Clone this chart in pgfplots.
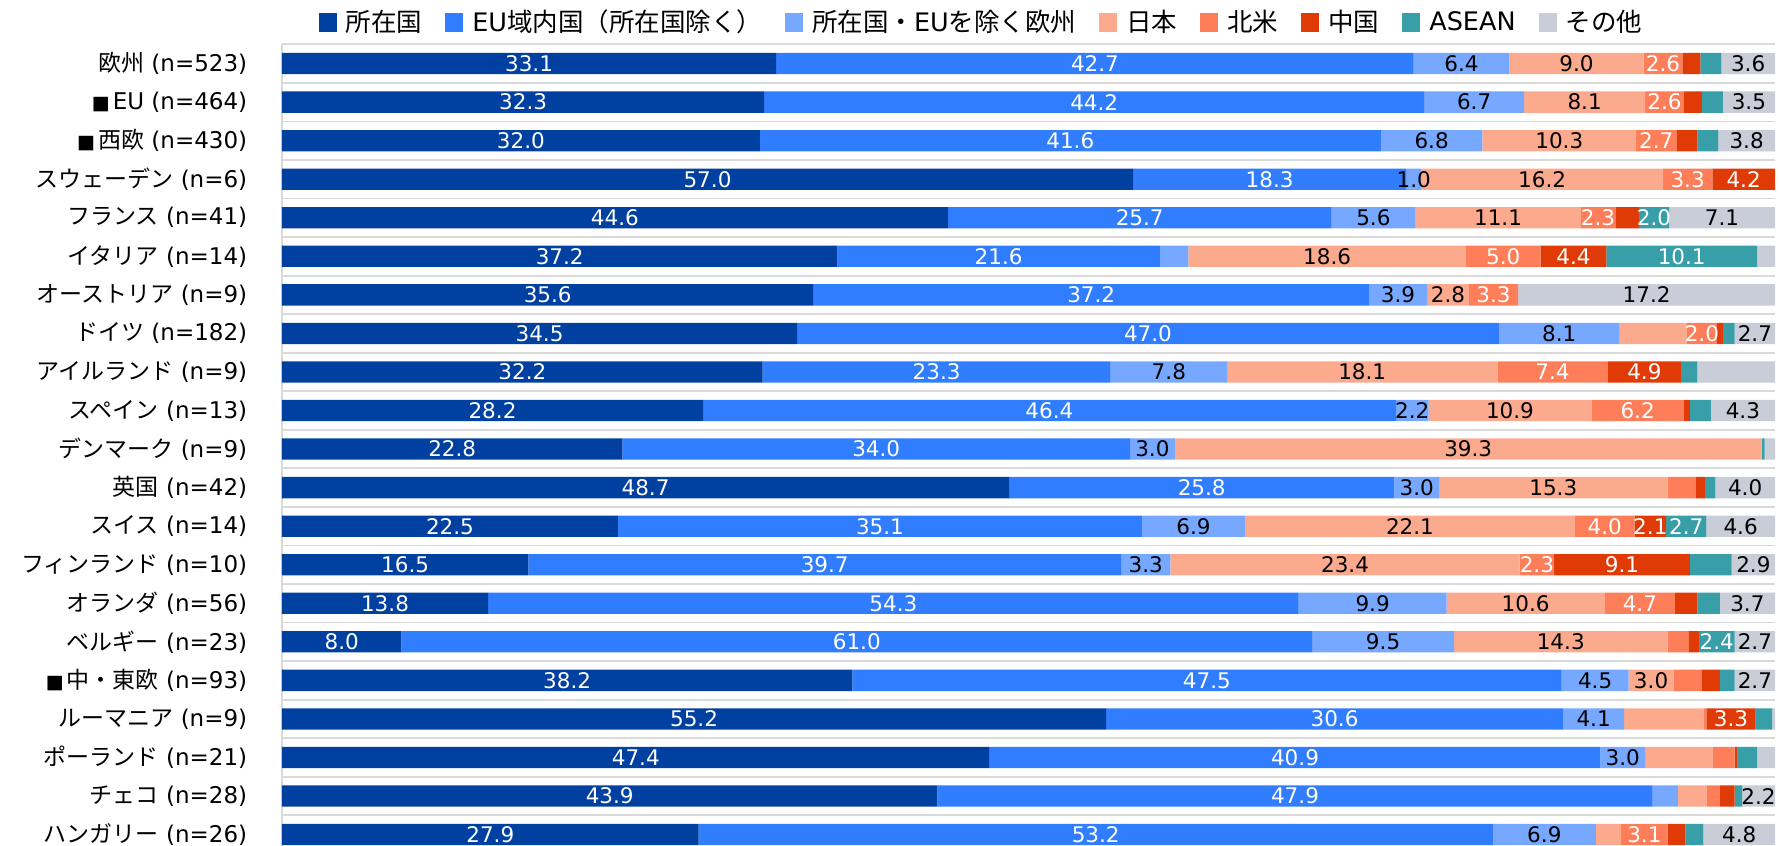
\documentclass[border=0pt]{standalone}
\usepackage{pgfplots}
\pgfplotsset{compat=1.18}
\usepackage{pgfplotstable}
\usepackage{fontspec}
\setmainfont{DejaVu Sans}
\newfontfamily\cjk{Noto Sans CJK JP}

\definecolor{cA}{RGB}{0,64,160}
\definecolor{cB}{RGB}{48,125,255}
\definecolor{cC}{RGB}{118,168,255}
\definecolor{cD}{RGB}{252,170,142}
\definecolor{cE}{RGB}{253,126,89}
\definecolor{cF}{RGB}{224,58,6}
\definecolor{cG}{RGB}{56,158,168}
\definecolor{cH}{RGB}{200,205,216}

\newcommand{\sq}{{\fontsize{9.5}{10}\selectfont ■}\hspace{1.5pt}}

\pgfplotsset{
  sqlegend/.style={legend image code/.code={\fill[##1] (0pt,-4.5pt) rectangle (9pt,4.5pt);}},
}

\pgfplotstableread{
y a b c d e f g h la lb lc ld le lf lg lh
0 33.1 42.7 6.4 9.0 2.6 1.2 1.4 3.6 33.1 42.7 6.4 9.0 2.6 {} {} 3.6
1 32.3 44.2 6.7 8.1 2.6 1.2 1.4 3.5 32.3 44.2 6.7 8.1 2.6 {} {} 3.5
2 32.0 41.6 6.8 10.3 2.7 1.4 1.4 3.8 32.0 41.6 6.8 10.3 2.7 {} {} 3.8
3 57.0 18.3 1.0 16.2 3.3 4.2 0 0 57.0 18.3 1.0 16.2 3.3 4.2 {} {}
4 44.6 25.7 5.6 11.1 2.3 1.6 2.0 7.1 44.6 25.7 5.6 11.1 2.3 {} 2.0 7.1
5 37.2 21.6 1.9 18.6 5.0 4.4 10.1 1.2 37.2 21.6 {} 18.6 5.0 4.4 10.1 {}
6 35.6 37.2 3.9 2.8 3.3 0 0 17.2 35.6 37.2 3.9 2.8 3.3 {} {} 17.2
7 34.5 47.0 8.1 4.5 2.0 0.4 0.8 2.7 34.5 47.0 8.1 {} 2.0 {} {} 2.7
8 32.2 23.3 7.8 18.1 7.4 4.9 1.1 5.2 32.2 23.3 7.8 18.1 7.4 4.9 {} {}
9 28.2 46.4 2.2 10.9 6.2 0.4 1.4 4.3 28.2 46.4 2.2 10.9 6.2 {} {} 4.3
10 22.8 34.0 3.0 39.3 0 0 0.2 0.7 22.8 34.0 3.0 39.3 {} {} {} {}
11 48.7 25.8 3.0 15.3 1.9 0.6 0.7 4.0 48.7 25.8 3.0 15.3 {} {} {} 4.0
12 22.5 35.1 6.9 22.1 4.0 2.1 2.7 4.6 22.5 35.1 6.9 22.1 4.0 2.1 2.7 4.6
13 16.5 39.7 3.3 23.4 2.3 9.1 2.8 2.9 16.5 39.7 3.3 23.4 2.3 9.1 {} 2.9
14 13.8 54.3 9.9 10.6 4.7 1.5 1.5 3.7 13.8 54.3 9.9 10.6 4.7 {} {} 3.7
15 8.0 61.0 9.5 14.3 1.4 0.7 2.4 2.7 8.0 61.0 9.5 14.3 {} {} 2.4 2.7
16 38.2 47.5 4.5 3.0 1.9 1.2 1.0 2.7 38.2 47.5 4.5 3.0 {} {} {} 2.7
17 55.2 30.6 4.1 5.3 0.2 3.3 1.1 0.2 55.2 30.6 4.1 {} {} 3.3 {} {}
18 47.4 40.9 3.0 4.5 1.5 0.2 1.3 1.2 47.4 40.9 3.0 {} {} {} {} {}
19 43.9 47.9 1.7 1.9 0.9 1.0 0.5 2.2 43.9 47.9 {} {} {} {} {} 2.2
20 27.9 53.2 6.9 1.7 3.1 1.2 1.2 4.8 27.9 53.2 6.9 {} 3.1 {} {} 4.8
}\datatable

\pgfplotsset{
  seg/.style n args={2}{
    fill=#1, draw=none, sqlegend,
    nodes near coords, point meta=explicit symbolic,
    every node near coord/.append style={text=#2, anchor=center, inner sep=0pt,
      font=\fontsize{10.75}{12}\selectfont},
  },
}

\begin{document}
\begin{tikzpicture}
\begin{axis}[
  name=ax,
  scale only axis, width=746.5pt, height=400.85pt,
  xbar stacked, bar width=10.65pt,
  xmin=0, xmax=100,
  ymin=-0.5, ymax=20.296, y dir=reverse,
  axis x line=none, axis y line*=left,
  y axis line style={draw=black!15, line width=1pt},
  ytick={0,...,20},
  yticklabels={
    {{\cjk 欧州} (n=523)},
    {\sq EU (n=464)},
    {\sq{\cjk 西欧} (n=430)},
    {{\cjk スウェーデン} (n=6)},
    {{\cjk フランス} (n=41)},
    {{\cjk イタリア} (n=14)},
    {{\cjk オーストリア} (n=9)},
    {{\cjk ドイツ} (n=182)},
    {{\cjk アイルランド} (n=9)},
    {{\cjk スペイン} (n=13)},
    {{\cjk デンマーク} (n=9)},
    {{\cjk 英国} (n=42)},
    {{\cjk スイス} (n=14)},
    {{\cjk フィンランド} (n=10)},
    {{\cjk オランダ} (n=56)},
    {{\cjk ベルギー} (n=23)},
    {\sq{\cjk 中・東欧} (n=93)},
    {{\cjk ルーマニア} (n=9)},
    {{\cjk ポーランド} (n=21)},
    {{\cjk チェコ} (n=28)},
    {{\cjk ハンガリー} (n=26)}
  },
  minor ytick={-0.5,0.5,...,19.5},
  yminorgrids=true,
  minor grid style={draw=black!15, line width=0.9pt},
  major tick length=0pt, minor tick length=0pt,
  yticklabel style={font=\fontsize{11.5}{13}\selectfont, inner sep=0pt, xshift=-17.2pt, text=black},
  legend columns=8,
  legend style={
    at={(0.4678,1)}, anchor=center, yshift=10.9pt,
    draw=none, fill=none, inner sep=0pt, outer sep=0pt,
    font=\fontsize{12.75}{14}\selectfont,
    nodes={inner sep=0pt},
    /tikz/every even column/.append style={column sep=11.5pt},
    /tikz/every odd column/.append style={column sep=4.5pt},
  },
  legend cell align=left,
]
\addplot[seg={cA}{white}] table[x=a, y=y, meta=la] {\datatable};
\addplot[seg={cB}{white}] table[x=b, y=y, meta=lb] {\datatable};
\addplot[seg={cC}{black}] table[x=c, y=y, meta=lc] {\datatable};
\addplot[seg={cD}{black}] table[x=d, y=y, meta=ld] {\datatable};
\addplot[seg={cE}{white}] table[x=e, y=y, meta=le] {\datatable};
\addplot[seg={cF}{white}] table[x=f, y=y, meta=lf] {\datatable};
\addplot[seg={cG}{white}] table[x=g, y=y, meta=lg] {\datatable};
\addplot[seg={cH}{black}] table[x=h, y=y, meta=lh] {\datatable};
\legend{{\cjk 所在国}, EU{\cjk 域内国（所在国除く）}, {\cjk 所在国・}EU{\cjk を除く欧州}, {\cjk 日本}, {\cjk 北米}, {\cjk 中国}, ASEAN, {\cjk その他}}
\end{axis}
\pgfresetboundingbox
\path[use as bounding box] ([xshift=-141pt]ax.south west) rectangle ([xshift=2pt,yshift=22.15pt]ax.north east);
\end{tikzpicture}
\end{document}
